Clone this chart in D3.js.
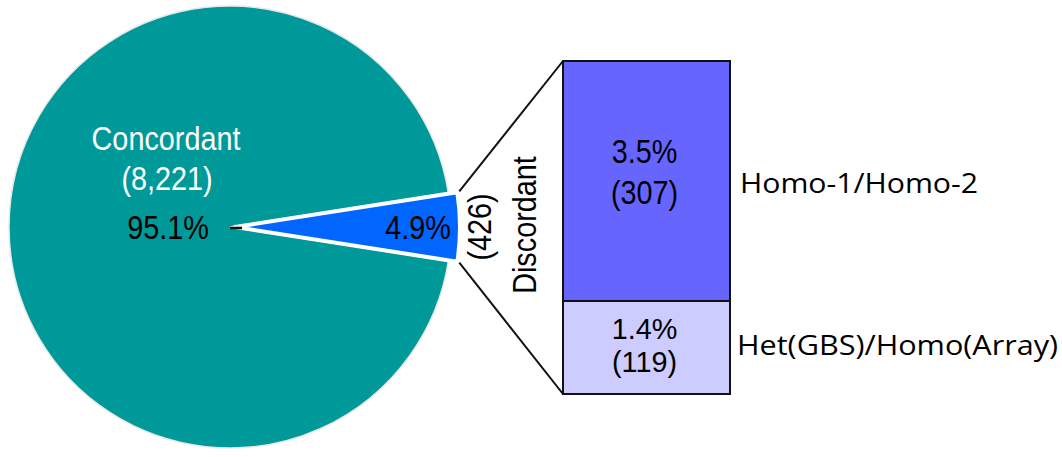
<!DOCTYPE html>
<html>
<head>
<meta charset="utf-8">
<script src="https://cdn.jsdelivr.net/npm/d3@7"></script>
<style>
  body { margin: 0; background: #fff; }
  text { font-family: "Liberation Sans", Arial, sans-serif; }
</style>
</head>
<body>
<div class="container"></div>
<script>
// pie + bar-of-pie

var pieLabels = ["Concordant", "Discordant"];
var pieCounts = [8221, 426];
var piePercents = ["95.1%", "4.9%"];

var barLabels = ["Het(GBS)/Homo(Array)", "Homo-1/Homo-2"];
var barCounts = [119, 307];
var barPercents = ["1.4%", "3.5%"];

var W = 1062, H = 457;

var svg = d3.select('.container').append('svg')
  .attr('width', W).attr('height', H);

// the original glyphs are a bit taller than Arial, stretch them
function label(parent, x, y, txt, rot, sy) {
  return parent.append('text')
    .attr('transform', 'translate(' + x + ',' + y + ')' + (rot ? ' rotate(' + rot + ')' : '') +
      ' scale(0.96,' + (sy || 1.1) + ')')
    .attr('text-anchor', 'middle')
    .attr('font-size', 30)
    .text(txt);
}

// pie ---------------------------------------------------------------
var cx = 230, cy = 227, R = 221;
var total = d3.sum(pieCounts);
var blueAngle = 2 * Math.PI * pieCounts[1] / total;

var pie = d3.pie().sort(null)
  .startAngle(Math.PI / 2 + blueAngle / 2)
  .endAngle(Math.PI / 2 + blueAngle / 2 + 2 * Math.PI);
var slices = pie(pieCounts);

var arcMain = d3.arc().innerRadius(0).outerRadius(R);
var arcBlue = d3.arc().innerRadius(0).outerRadius(R + 4);

var pieG = svg.append('g').attr('transform', 'translate(' + cx + ',' + cy + ')');

pieG.append('path')
  .attr('d', arcMain(slices[0]))
  .attr('fill', '#009999')
  .attr('stroke', '#e8e8e8').attr('stroke-width', 1.5);

// discordant wedge, pulled out a little with a white rim
pieG.append('path')
  .attr('d', arcBlue(slices[1]))
  .attr('transform', 'translate(5,0)')
  .attr('fill', '#0066ff')
  .attr('stroke', '#fff').attr('stroke-width', 4)
  .attr('stroke-linejoin', 'round');

// tiny leader at the apex
pieG.append('line')
  .attr('x1', 0).attr('x2', 12).attr('y1', 1).attr('y2', 1)
  .attr('stroke', '#111').attr('stroke-width', 2.5);

label(svg, 166, 150, pieLabels[0]).attr('fill', '#fff');
label(svg, 167, 190, '(' + d3.format(',')(pieCounts[0]) + ')').attr('fill', '#fff');
label(svg, 168, 239, piePercents[0]).attr('fill', '#000');
label(svg, 418, 239, piePercents[1]).attr('fill', '#000');

// bar ---------------------------------------------------------------
var barX = 563, barW = 167;
var y = d3.scaleLinear().domain([0, d3.sum(barCounts)]).range([394, 61]);

var stack = [];
var acc = 0;
barCounts.forEach(function(v, i) {
  stack.push({ lo: acc, hi: acc + v, count: v, pct: barPercents[i], label: barLabels[i] });
  acc += v;
});
var barColors = ['#ccccff', '#6666ff'];

svg.selectAll('rect.seg').data(stack).enter().append('rect')
  .attr('class', 'seg')
  .attr('x', barX).attr('width', barW)
  .attr('y', function(d) { return y(d.hi); })
  .attr('height', function(d) { return y(d.lo) - y(d.hi); })
  .attr('fill', function(d, i) { return barColors[i]; })
  .attr('stroke', '#111').attr('stroke-width', 2);

// value labels inside the segments (bottom one is a tight fit)
stack.forEach(function(d, i) {
  var mid = (y(d.lo) + y(d.hi)) / 2;
  var xm = barX + barW / 2 - 2;
  var sy = i === 0 ? 1.0 : 1.1;
  label(svg, xm, mid + (i === 0 ? -8 : -18), d.pct, 0, sy);
  label(svg, xm, mid + (i === 0 ? 25 : 23), '(' + d.count + ')', 0, sy);
});

// category labels at right
svg.selectAll('text.cat').data(stack).enter().append('text')
  .attr('class', 'cat')
  .attr('x', function(d, i) { return i === 0 ? 737 : 740; })
  .attr('y', function(d, i) { return i === 0 ? 355 : 193; })
  .attr('font-size', 27)
  .style('font-family', '"Open Sans", sans-serif')
  .attr('textLength', function(d, i) { return i === 0 ? 321 : 238; })
  .attr('lengthAdjust', 'spacingAndGlyphs')
  .text(function(d) { return d.label; });

// connectors from wedge corners to bar corners
var a0 = slices[1].startAngle, a1 = slices[1].endAngle;
var rr = R + 4;
var c0 = [cx + 5 + rr * Math.sin(a0), cy - rr * Math.cos(a0)];
var c1 = [cx + 5 + rr * Math.sin(a1), cy - rr * Math.cos(a1)];
var upper = c0[1] < c1[1] ? c0 : c1, lower = c0[1] < c1[1] ? c1 : c0;

svg.append('line')
  .attr('x1', upper[0] + 2).attr('y1', upper[1] - 1)
  .attr('x2', barX).attr('y2', y(d3.sum(barCounts)))
  .attr('stroke', '#111').attr('stroke-width', 2);
svg.append('line')
  .attr('x1', lower[0] + 2).attr('y1', lower[1] + 1)
  .attr('x2', barX).attr('y2', y(0))
  .attr('stroke', '#111').attr('stroke-width', 2);

// rotated discordant label
label(svg, 491, 227, '(' + pieCounts[1] + ')', -90);
label(svg, 536, 225, pieLabels[1], -90);
</script>
</body>
</html>
